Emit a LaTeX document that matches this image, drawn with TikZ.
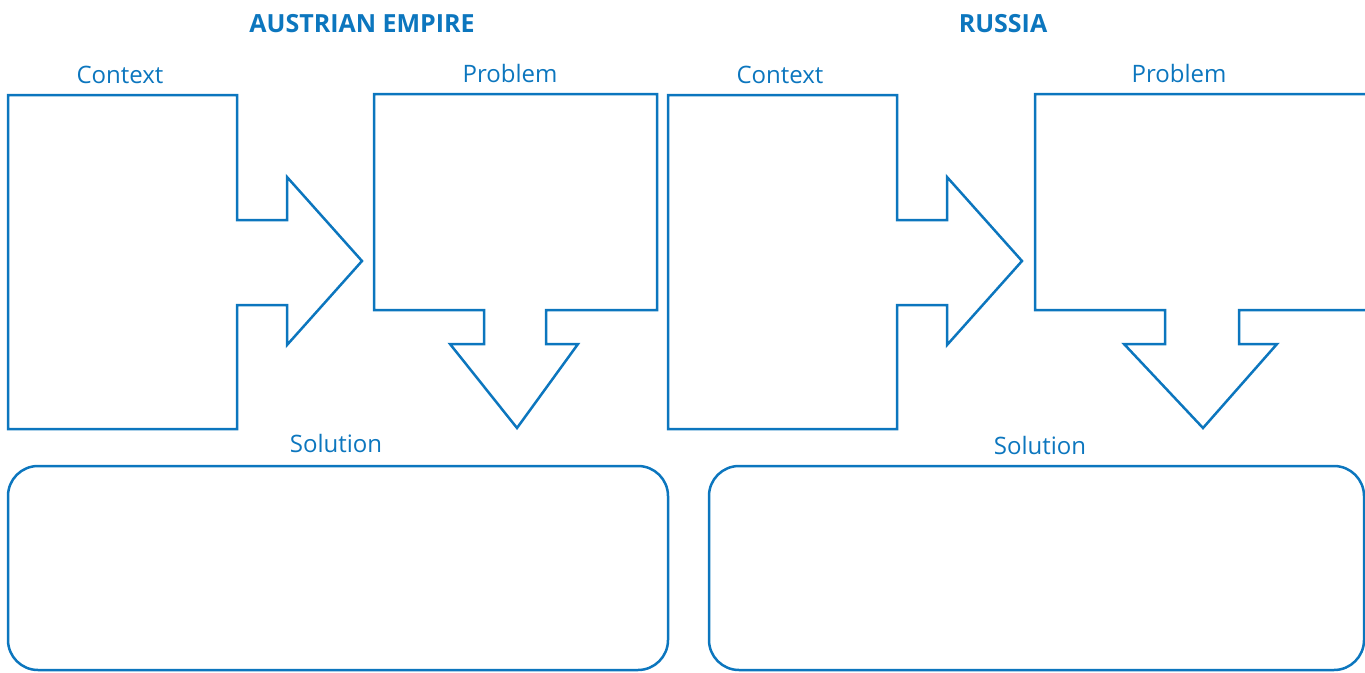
\documentclass[tikz,border=0pt]{standalone}
\usepackage{fontspec}
\setmainfont{Open Sans}
\usetikzlibrary{positioning}
\definecolor{hblue}{RGB}{12,118,190}
\tikzset{
  outl/.style={draw=hblue, line width=2.5pt, line join=miter},
  solbox/.style={outl, rounded corners=30pt},
  lbl/.style={text=hblue, font=\fontsize{24}{28}\selectfont, inner sep=0pt, anchor=base},
  ttl/.style={lbl, font=\fontsize{25}{29}\selectfont\bfseries},
}

\begin{document}
\begin{tikzpicture}[x=1pt, y=-1pt]
\clip (0,0) rectangle (1365,672);

% ── Titulos ─────────────────────────────────────────────────
\node[ttl] (ttlA) at (362, 32) {AUSTRIAN EMPIRE};
\node[ttl] (ttlR) at (1003, 32) {RUSSIA};

% ── Context (flecha a la derecha) ───────────────────────────
\foreach \ox/\nm in {0/A, 660/R} {
  \begin{scope}[xshift=\ox pt]
    \draw[outl] (8,95) -- (237,95) -- (237,220) -- (287,220) -- (287,177)
      -- (362,261) -- (287,345) -- (287,305) -- (237,305) -- (237,429)
      -- (8,429) -- cycle;
    \node[lbl] (ctx\nm) at (120, 83) {Context};
  \end{scope}
}

% ── Problem (flecha hacia abajo) ────────────────────────────
\draw[outl] (374,94) -- (657,94) -- (657,310) -- (546,310) -- (546,344)
  -- (578,344) -- (517,428) -- (450,344) -- (484,344) -- (484,310)
  -- (374,310) -- cycle;
\node[lbl] (probA) at (510, 82) {Problem};

\draw[outl] (1035,94) -- (1369,94) -- (1369,310) -- (1239,310) -- (1239,344)
  -- (1277,344) -- (1203,428) -- (1124,344) -- (1165,344) -- (1165,310)
  -- (1035,310) -- cycle;
\node[lbl] (probR) at (1179, 82) {Problem};

% ── Solution ────────────────────────────────────────────────
\draw[solbox] (8,466) rectangle (668,670);
\node[lbl] (solA) at (336, 452) {Solution};
\draw[solbox] (709,466) rectangle (1364,670);
\node[lbl] (solR) at (1040, 454) {Solution};

\end{tikzpicture}
\end{document}
